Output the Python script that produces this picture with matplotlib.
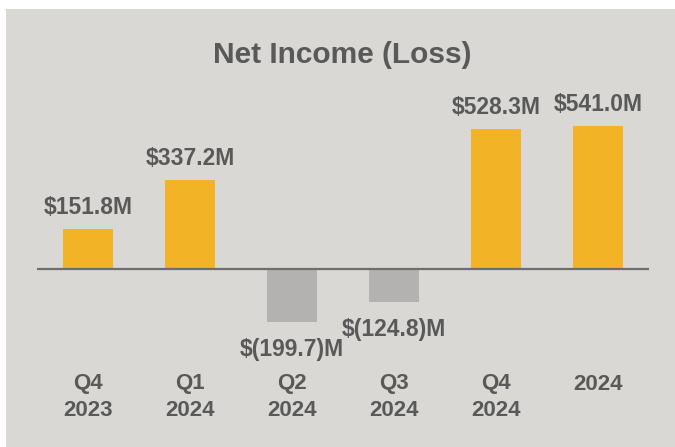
import matplotlib
matplotlib.use('Agg')
import matplotlib.pyplot as plt
from matplotlib.patches import Rectangle

plt.rcParams['font.family'] = ['Liberation Sans', 'DejaVu Sans']

periods = ['Q4\n2023', 'Q1\n2024', 'Q2\n2024', 'Q3\n2024', 'Q4\n2024', '2024']
net_income = [151.8, 337.2, -199.7, -124.8, 528.3, 541.0]
value_labels = ['$151.8M', '$337.2M', '$(199.7)M', '$(124.8)M', '$528.3M', '$541.0M']

BG = '#d9d8d4'
GOLD = '#f3b327'
GREY = '#b3b2b0'
TXT = '#595959'

W, H = 675, 447
fig = plt.figure(figsize=(W / 100, H / 100), dpi=100, facecolor='white')
# grey panel with thin white margin on top/left
fig.patches.append(Rectangle((6 / W, 0), 1 - 6 / W, 1 - 9 / H, transform=fig.transFigure,
                             facecolor=BG, edgecolor='none', zorder=-10))

ax = fig.add_axes([37 / W, (H - 348.5) / H, 612 / W, 238.5 / H])
ax.set_facecolor('none')
ax.set_zorder(5)

x = list(range(len(periods)))
colors = [GOLD if v >= 0 else GREY for v in net_income]
ax.bar(x, net_income, width=0.49, color=colors, zorder=2)
ax.axhline(0, color='#6e6e6e', lw=1.6, zorder=3)

for xi, v, lab in zip(x, net_income, value_labels):
    if v >= 0:
        ax.annotate(lab, (xi, v), xytext=(0, 10.5), textcoords='offset points',
                    ha='center', va='baseline', fontsize=16.5, fontweight='bold', color=TXT)
    else:
        ax.annotate(lab, (xi, v), xytext=(0, -11.5), textcoords='offset points',
                    ha='center', va='top', fontsize=16.5, fontweight='bold', color=TXT)

ax.set_xlim(-0.5, 5.5)
ax.set_ylim(-300, 600)
ax.set_xticks(x)
ax.set_xticklabels(periods, fontsize=16, fontweight='bold', color=TXT, linespacing=1.35)
ax.tick_params(axis='x', length=0, pad=18)
ax.set_yticks([])
for s in ax.spines.values():
    s.set_visible(False)

fig.text(342.5 / W, 1 - 63 / H, 'Net Income (Loss)', ha='center', va='baseline',
         fontsize=21.5, fontweight='bold', color=TXT)

plt.savefig('out.png', dpi=100, facecolor='white')
plt.close()
